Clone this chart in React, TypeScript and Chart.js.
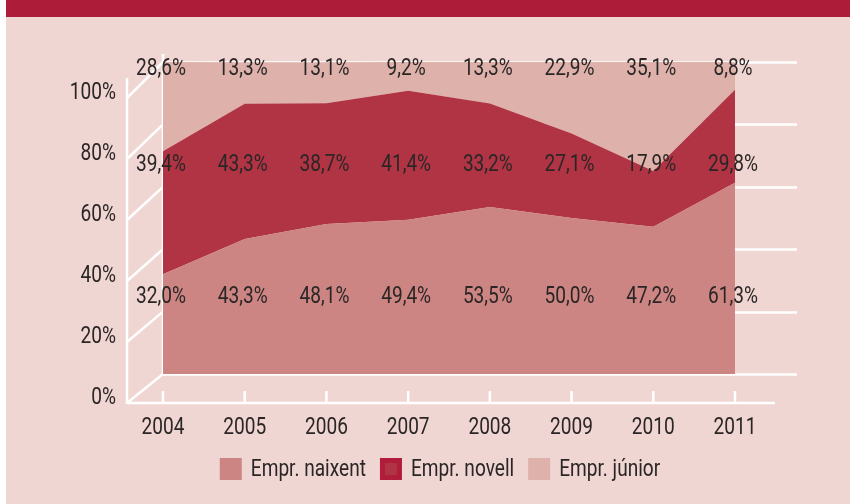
import React, { useEffect, useRef } from "react";
import { Chart, registerables } from "chart.js";

Chart.register(...registerables);

// ---- data ----
const years = ["2004", "2005", "2006", "2007", "2008", "2009", "2010", "2011"];
const naixent = [32.0, 43.3, 48.1, 49.4, 53.5, 50.0, 47.2, 61.3];
const novell = [39.4, 43.3, 38.7, 41.4, 33.2, 27.1, 17.9, 29.8];
const junior = [28.6, 13.3, 13.1, 9.2, 13.3, 22.9, 35.1, 8.8];
const seriesNames = ["Empr. naixent", "Empr. novell", "Empr. júnior"];
const yTicks = [0, 20, 40, 60, 80, 100];

// ---- style ----
const COL_NAIXENT = "#cc8582";
const COL_NOVELL = "#b03444";
const COL_JUNIOR = "#deb1aa";
const BG = "#f0d6d2";
const BAND = "#ad1d3a";
const TEXT = "#2b2626";
const FONT = `400 23px Roboto, "Noto Sans", sans-serif`;
const SX = 0.83; // condensed look

const fmt = (v: number) => v.toFixed(1).replace(".", ",") + "%";

function drawText(ctx: CanvasRenderingContext2D, t: string, x: number, y: number, align: CanvasTextAlign) {
  ctx.save();
  ctx.translate(x, y);
  ctx.scale(SX, 1);
  ctx.textAlign = align;
  ctx.fillText(t, 0, 0);
  ctx.restore();
}

const frame3d = {
  id: "frame3d",
  beforeDraw(chart: any) {
    const { ctx, width, height } = chart;
    ctx.save();
    ctx.fillStyle = "#ffffff";
    ctx.fillRect(0, 0, width, height);
    ctx.fillStyle = BG;
    ctx.fillRect(6, 0, width - 6, height);
    ctx.fillStyle = BAND;
    ctx.fillRect(6, 0, width - 6, 17);
    ctx.restore();
  },
  beforeDatasetsDraw(chart: any) {
    const { ctx, chartArea } = chart;
    const ys = chart.scales.y;
    const xs = chart.scales.x;
    const dx = 36;
    ctx.save();
    ctx.strokeStyle = "#ffffff";
    ctx.lineWidth = 2.5;
    ctx.lineCap = "butt";
    // back wall gridlines
    yTicks.forEach((v) => {
      const y = Math.round(ys.getPixelForValue(v)) + 0.5;
      ctx.beginPath();
      ctx.moveTo(chartArea.left, y);
      ctx.lineTo(chartArea.right + 62, y);
      ctx.stroke();
    });
    // back wall vertical
    ctx.beginPath();
    ctx.moveTo(chartArea.left, chartArea.top - 8);
    ctx.lineTo(chartArea.left, chartArea.bottom + 1);
    ctx.stroke();
    // side-wall diagonals
    yTicks.forEach((v) => {
      const yb = ys.getPixelForValue(v);
      const yf = yb + 29 + (7 * v) / 100;
      ctx.beginPath();
      ctx.moveTo(chartArea.left - dx, yf);
      ctx.lineTo(chartArea.left, yb);
      ctx.stroke();
    });
    // front vertical
    const frontBottom = chartArea.bottom + 29;
    ctx.beginPath();
    ctx.moveTo(chartArea.left - dx, chartArea.top + 16);
    ctx.lineTo(chartArea.left - dx, frontBottom + 1);
    ctx.stroke();
    // front baseline
    ctx.beginPath();
    ctx.moveTo(chartArea.left - dx, frontBottom);
    ctx.lineTo(chartArea.right + 40, frontBottom);
    ctx.stroke();
    // x tick marks
    years.forEach((_, i) => {
      const x = xs.getPixelForValue(i);
      ctx.beginPath();
      ctx.moveTo(x, frontBottom - 12);
      ctx.lineTo(x, frontBottom);
      ctx.stroke();
    });
    ctx.restore();
  },
  afterDatasetsDraw(chart: any) {
    const { ctx, chartArea } = chart;
    const ys = chart.scales.y;
    const xs = chart.scales.x;
    ctx.save();
    ctx.font = FONT;
    ctx.fillStyle = TEXT;
    ctx.textBaseline = "middle";

    // y tick labels (front)
    yTicks.forEach((v) => {
      const yb = ys.getPixelForValue(v);
      const yf = yb + 29 + (7 * v) / 100 - 5;
      drawText(ctx, v + "%", chartArea.left - 47, yf, "right");
    });

    // x tick labels
    years.forEach((yr, i) => {
      drawText(ctx, yr, xs.getPixelForValue(i), chartArea.bottom + 54, "center");
    });

    // data label rows (fixed rows, like the source)
    const rows: [number[], number][] = [
      [junior, 97.8],
      [novell, 67.0],
      [naixent, 24.7],
    ];
    rows.forEach(([arr, level]) => {
      const y = ys.getPixelForValue(level);
      arr.forEach((v, i) => {
        drawText(ctx, fmt(v), xs.getPixelForValue(i) - 2, y, "center");
      });
    });

    // legend
    const cols = [COL_NAIXENT, COL_NOVELL, COL_JUNIOR];
    const box = 22;
    const gapBox = 9;
    const gapItem = 14;
    const widths = seriesNames.map((n) => ctx.measureText(n).width * SX);
    const total = widths.reduce((a, w) => a + box + gapBox + w, 0) + gapItem * (seriesNames.length - 1);
    let x = 440 - total / 2;
    const ly = 469;
    seriesNames.forEach((n, i) => {
      if (i === 1) {
        ctx.fillStyle = "#b01d3a";
        ctx.fillRect(x, ly - box / 2, box, box);
        ctx.fillStyle = COL_NOVELL;
        ctx.fillRect(x + 5, ly - box / 2 + 5, box - 10, box - 10);
      } else {
        ctx.fillStyle = cols[i];
        ctx.fillRect(x, ly - box / 2, box, box);
      }
      ctx.fillStyle = TEXT;
      drawText(ctx, n, x + box + gapBox, ly + 1, "left");
      x += box + gapBox + widths[i] + gapItem;
    });
    ctx.restore();
  },
};

export default function App() {
  const ref = useRef<HTMLCanvasElement>(null);
  useEffect(() => {
    if (!ref.current) return;
    const chart = new Chart(ref.current, {
      type: "line",
      data: {
        labels: years,
        datasets: [
          {
            label: seriesNames[0],
            data: naixent,
            backgroundColor: COL_NAIXENT,
            borderColor: COL_NAIXENT,
            borderWidth: 0,
            pointRadius: 0,
            fill: "origin",
            tension: 0,
          },
          {
            label: seriesNames[1],
            data: novell,
            backgroundColor: COL_NOVELL,
            borderColor: COL_NOVELL,
            borderWidth: 0,
            pointRadius: 0,
            fill: "-1",
            tension: 0,
          },
          {
            label: seriesNames[2],
            data: junior,
            backgroundColor: COL_JUNIOR,
            borderColor: COL_JUNIOR,
            borderWidth: 0,
            pointRadius: 0,
            fill: "-1",
            tension: 0,
          },
        ],
      },
      options: {
        responsive: false,
        animation: false,
        devicePixelRatio: 1,
        layout: { padding: { left: 163, right: 115, top: 62, bottom: 130 } },
        plugins: {
          legend: { display: false },
          tooltip: { enabled: false },
        },
        scales: {
          x: { display: false, offset: false },
          y: { display: false, stacked: true, min: 0, max: 100 },
        },
      },
      plugins: [frame3d],
    });
    return () => chart.destroy();
  }, []);
  return (
    <div style={{ position: "fixed", left: 0, top: 0, width: 850, height: 504 }}>
      <canvas ref={ref} width={850} height={504} style={{ display: "block", width: 850, height: 504 }} />
    </div>
  );
}
